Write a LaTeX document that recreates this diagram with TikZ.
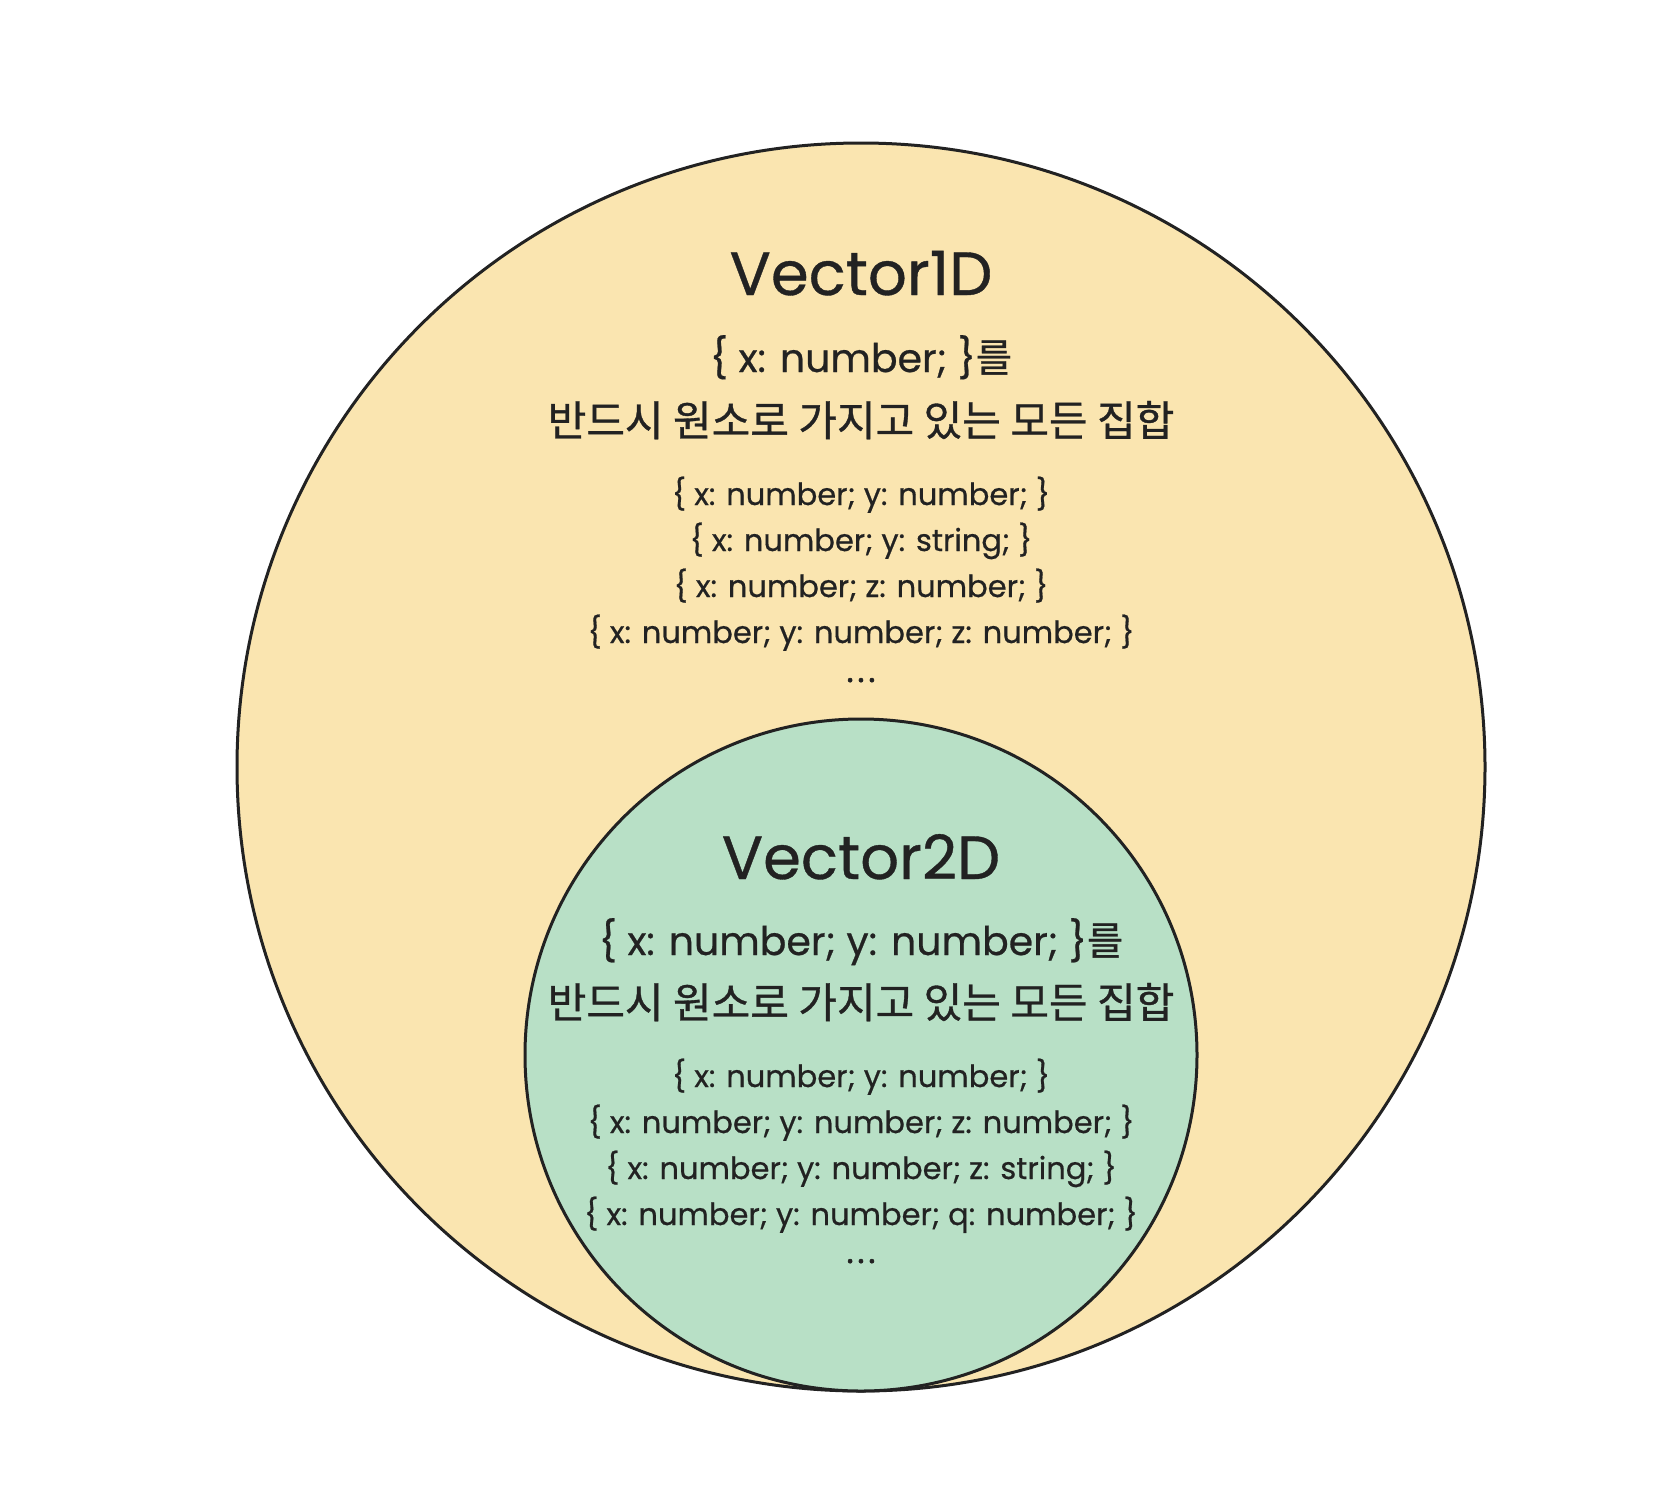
\documentclass[tikz,border=0pt]{standalone}
\usepackage{fontspec}
\setmainfont{Poppins}[FakeBold=0.6]
\newfontfamily\kr{Noto Sans CJK KR}[FakeBold=0.8]
\definecolor{setyellow}{HTML}{FAE5B0}
\definecolor{setgreen}{HTML}{B8E0C6}
\definecolor{ink}{HTML}{222222}
\begin{document}
\begin{tikzpicture}[x=1pt, y=-1pt]
        \tikzstyle{every node}=[text=ink, inner sep=0pt, anchor=base]
        \tikzstyle{setcircle}=[circle, draw=ink, line width=3pt, anchor=center]
        \tikzstyle{title}=[font=\fontsize{61}{61}\selectfont]
        \tikzstyle{rule}=[font=\fontsize{39.4}{39.4}\selectfont]
        \tikzstyle{korean}=[font=\kr\fontsize{42}{42}\selectfont]
        \tikzstyle{member}=[font=\fontsize{30.5}{30.5}\selectfont]
        \tikzstyle{more}=[font=\fontsize{33}{33}\selectfont\addfontfeature{LetterSpace=12,FakeBold=2}]

        \useasboundingbox (0,0) rectangle (1680,1496);

        \node[setcircle, fill=setyellow, minimum size=1248pt] (vec1) at (861,767) {};
        \node[setcircle, fill=setgreen, minimum size=672pt] (vec2) at (861,1055) {};

        \node[title] (t1) at (861,295) {Vector1D};
        \node[rule] (r1) at (861,372) {\{ x: number; \}{\kr 를}};
        \node[korean] (k1) at (861,436) {반드시 원소로 가지고 있는 모든 집합};
        \foreach \txt [count=\i] in {{\{ x: number; y: number; \}}, {\{ x: number; y: string; \}},
          {\{ x: number; z: number; \}}, {\{ x: number; y: number; z: number; \}}}
        {
          \node[member] (a\i) at (861, 459+46*\i) {\txt};
        }
        \node[more] (a5) at (861,682) {...};

        \node[title] (t2) at (861,879) {Vector2D};
        \node[rule] (r2) at (861,955) {\{ x: number; y: number; \}{\kr 를}};
        \node[korean] (k2) at (861,1018) {반드시 원소로 가지고 있는 모든 집합};
        \foreach \txt [count=\i] in {{\{ x: number; y: number; \}}, {\{ x: number; y: number; z: number; \}},
          {\{ x: number; y: number; z: string; \}}, {\{ x: number; y: number; q: number; \}}}
        {
          \node[member] (b\i) at (861, 1041+46*\i) {\txt};
        }
        \node[more] (b5) at (861,1263) {...};
      \end{tikzpicture}
\end{document}
